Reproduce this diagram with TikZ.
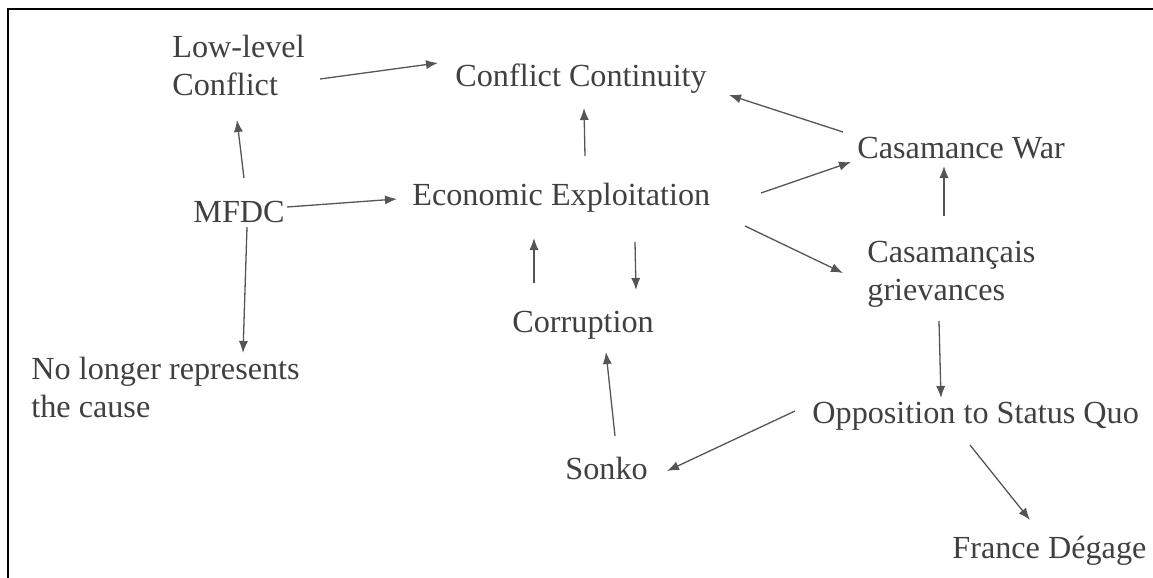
\documentclass[tikz,border=0pt]{standalone}
\usepackage{fontspec}
\setmainfont{Liberation Serif}
\usepackage{tikz}
\usetikzlibrary{positioning}
\usetikzlibrary{arrows.meta}
\definecolor{labelgray}{RGB}{64,64,64}
\definecolor{linkgray}{RGB}{85,85,85}
\tikzset{
idea/.style = {inner sep=0pt, anchor=base west, align=left, text=labelgray,
  font=\fontsize{16.1pt}{18.8pt}\selectfont},
link/.style = {draw=linkgray, line width=0.65pt, ->}
}

\begin{document}
\begin{tikzpicture}[x=0.5pt, y=-0.5pt, >={Latex[length=6pt,width=4.6pt]}]
    \useasboundingbox (0,0) rectangle (1153,578);
    % frame round the page
    \draw [line width=1pt] (8,578) -- (8,9) -- (1153,9);

    % We start by placing the ideas (two-line ones sit on their last line)
    \node [idea] (low) at (172,95) {Low-level\\Conflict};
    \node [idea] (cont) at (455,86) {Conflict Continuity};
    \node [idea] (war) at (857,158) {Casamance War};
    \node [idea] (mfdc) at (193,222) {MFDC};
    \node [idea] (econ) at (412,205) {Economic Exploitation};
    \node [idea] (griev) at (867,300) {Casamançais\\grievances};
    \node [idea] (corr) at (512,332) {Corruption};
    \node [idea] (nolonger) at (31,417) {No longer represents\\the cause};
    \node [idea] (sonko) at (565,479) {Sonko};
    \node [idea] (oppo) at (812,423) {Opposition to Status Quo};
    \node [idea] (france) at (952,558) {France Dégage};

    % then the links between them
    \draw [link] ([shift={(148,-16)}]low.base west) -- ([shift={(-17,-23)}]cont.base west);
    \draw [link] ([shift={(51,-44)}]mfdc.base west) -- ([shift={(65,25)}]low.base west);
    \draw [link] ([shift={(94,-15)}]mfdc.base west) -- ([shift={(-15,-6)}]econ.base west);
    \draw [link] ([shift={(54,5)}]mfdc.base west) -- ([shift={(212,-64)}]nolonger.base west);
    \draw [link] ([shift={(173,-49)}]econ.base west) -- ([shift={(129,22)}]cont.base west);
    \draw [link] ([shift={(22,-49)}]corr.base west) -- ([shift={(122,33)}]econ.base west);
    \draw [link] ([shift={(223,37)}]econ.base west) -- ([shift={(124,-42)}]corr.base west);
    \draw [link] ([shift={(349,-12)}]econ.base west) -- ([shift={(-6,4)}]war.base west);
    \draw [link] ([shift={(-14,-26)}]war.base west) -- ([shift={(274,9)}]cont.base west);
    \draw [link] ([shift={(77,-84)}]griev.base west) -- ([shift={(87,8)}]war.base west);
    \draw [link] ([shift={(333,21)}]econ.base west) -- ([shift={(-24,-27)}]griev.base west);
    \draw [link] ([shift={(72,21)}]griev.base west) -- ([shift={(129,-25)}]oppo.base west);
    \draw [link] ([shift={(-17,-12)}]oppo.base west) -- ([shift={(102,-8)}]sonko.base west);
    \draw [link] ([shift={(50,-43)}]sonko.base west) -- ([shift={(94,20)}]corr.base west);
    \draw [link] ([shift={(158,22)}]oppo.base west) -- ([shift={(78,-38)}]france.base west);
\end{tikzpicture}
\end{document}
